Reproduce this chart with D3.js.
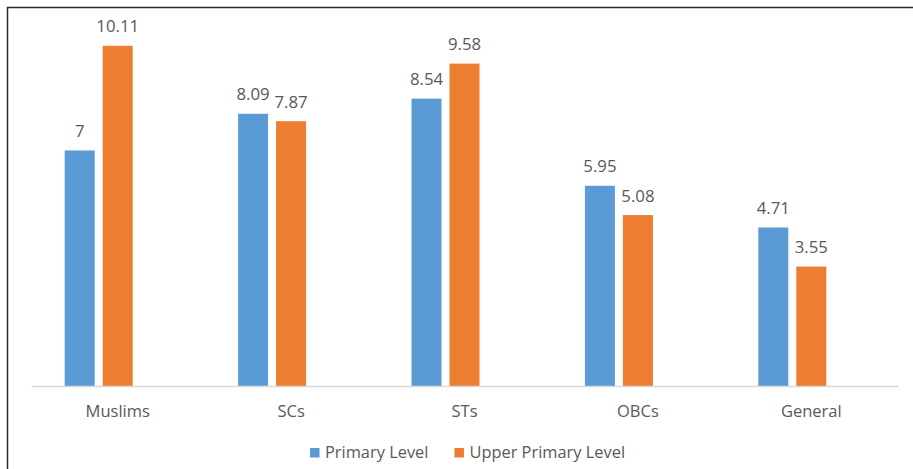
<!DOCTYPE html>
<html>
<head>
<meta charset="utf-8">
<script src="https://cdn.jsdelivr.net/npm/d3@7"></script>
<style>
  html, body { margin: 0; padding: 0; background: #fff; }
  svg { display: block; }
  text { font-family: "Open Sans", "Noto Sans", sans-serif; fill: #595959; }
</style>
</head>
<body>
<svg id="chart" width="913" height="469"></svg>
<script>
// Category labels along the x axis
const categories = ["Muslims", "SCs", "STs", "OBCs", "General"];
// Series names and values
const seriesNames = ["Primary Level", "Upper Primary Level"];
const primaryLevel = [7, 8.09, 8.54, 5.95, 4.71];
const upperPrimaryLevel = [10.11, 7.87, 9.58, 5.08, 3.55];
// Each category reserves a third, empty slot after the two series
const slots = ["Primary Level", "Upper Primary Level", "spare"];

const colors = { "Primary Level": "#5B9BD5", "Upper Primary Level": "#ED7D31" };

const svg = d3.select("#chart");
const W = 913, H = 469;

// frame of the chart area (only top and left edges fall inside the page)
svg.append("rect")
  .attr("x", 7.5).attr("y", 7.5)
  .attr("width", W + 20).attr("height", H + 20)
  .attr("fill", "none").attr("stroke", "#2b2b2b").attr("stroke-width", 1.5);

const plot = { left: 31, right: 898, base: 386 };

const x = d3.scaleBand().domain(categories).range([plot.left, plot.right]).padding(0);
const xi = d3.scaleBand().domain(slots).range([0, x.bandwidth()])
  .paddingInner(0.2105).paddingOuter(0.887);
const y = d3.scaleLinear().domain([0, 10]).range([plot.base, 49.5]);

const rows = categories.map((c, i) => ({
  category: c,
  values: [
    { key: seriesNames[0], value: primaryLevel[i] },
    { key: seriesNames[1], value: upperPrimaryLevel[i] }
  ]
}));

const groups = svg.append("g").selectAll("g")
  .data(rows).join("g")
  .attr("transform", d => `translate(${x(d.category)},0)`);

groups.selectAll("rect")
  .data(d => d.values).join("rect")
  .attr("x", d => xi(d.key))
  .attr("width", xi.bandwidth())
  .attr("y", d => y(d.value))
  .attr("height", d => y(0) - y(d.value))
  .attr("fill", d => colors[d.key]);

groups.selectAll("text.val")
  .data(d => d.values).join("text")
  .attr("class", "val")
  .attr("x", d => xi(d.key) + xi.bandwidth() / 2)
  .attr("y", d => y(d.value) - 13.5)
  .attr("text-anchor", "middle")
  .attr("font-size", 16.8)
  .text(d => d.value);

// x axis baseline and category labels
const xAxis = d3.axisBottom(x).tickSize(0).tickPadding(0);
const ax = svg.append("g").attr("transform", `translate(0,${plot.base})`).call(xAxis);
ax.select(".domain").attr("stroke", "#d9d9d9").attr("stroke-width", 1.5);
ax.selectAll(".tick text")
  .attr("y", 31).attr("dy", null)
  .attr("font-size", 16.5)
  .attr("font-family", "'Open Sans', sans-serif")
  .attr("fill", "#595959");

// legend
const legend = svg.append("g");
let lx = 0;
seriesNames.forEach((name, i) => {
  const item = legend.append("g").attr("transform", `translate(${lx},0)`);
  item.append("rect").attr("x", 0).attr("y", -9.5).attr("width", 9.5).attr("height", 9.5)
    .attr("fill", colors[name]);
  const t = item.append("text").attr("x", 15).attr("y", 0)
    .attr("font-size", 16.4).text(name);
  lx += 15 + t.node().getComputedTextLength() + 26;
});
legend.attr("transform", `translate(310,457.5)`);
</script>
</body>
</html>
